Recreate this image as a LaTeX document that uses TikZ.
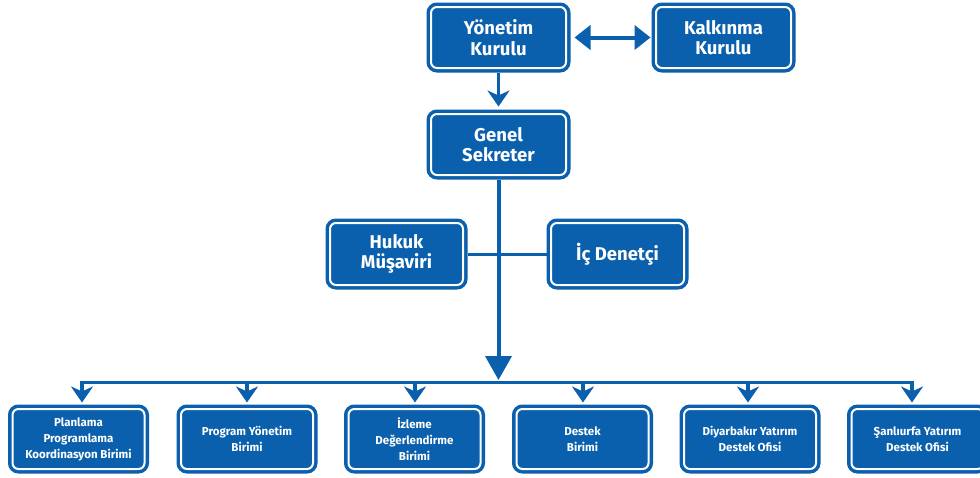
\documentclass[tikz,border=0pt]{standalone}
\usepackage{fontspec}
\setmainfont{Fira Sans}
\usetikzlibrary{arrows.meta}
\definecolor{kblue}{RGB}{10,96,172}
\tikzset{
  box/.style={fill=kblue, draw=white, line width=2pt, rounded corners=6pt,
    preaction={draw=kblue, line width=9pt}, outer sep=4.5pt,
    text=white, align=center, inner sep=0pt},
  bigbox/.style={box, minimum width=135pt, minimum height=61pt,
    font=\fontsize{18.5}{20.5}\selectfont\bfseries},
  midbox/.style={box, minimum width=133pt, minimum height=62pt,
    font=\fontsize{18.5}{20.5}\selectfont\bfseries},
  smallbox/.style={box, minimum width=132pt, minimum height=60pt,
    font=\fontsize{11.5}{16}\selectfont\bfseries},
  conn/.style={draw=kblue, line width=3.5pt},
  chev/.style={conn, -{Stealth[length=16pt,width=22pt,inset=5pt]}},
  bigarrow/.style={draw=kblue, line width=4pt, -{Triangle[length=24pt,width=26pt]}},
  dblarrow/.style={draw=kblue, line width=4pt, {Triangle[length=16pt,width=24pt]}-{Triangle[length=16pt,width=24pt]}}
}
\begin{document}
\begin{tikzpicture}[x=1pt,y=-1pt]
\useasboundingbox (0,0) rectangle (980,477);
\clip (0,0) rectangle (980,477);
\node[bigbox] (yk) at (498.5,37.5) {Yönetim\\Kurulu};
\node[bigbox] (kk) at (723.5,37.5) {Kalkınma\\Kurulu};
\node[bigbox] (gs) at (498.5,144.5) {Genel\\Sekreter};
\node[midbox] (hm) at (396.5,254) {Hukuk\\Müşaviri};
\node[midbox] (id) at (617.5,254) {İç Denetçi};
\node[smallbox] (b1) at (78.5,439) {Planlama\\Programlama\\Koordinasyon Birimi};
\node[smallbox] (b2) at (247,439) {Program Yönetim\\Birimi};
\node[smallbox] (b3) at (414.5,439) {İzleme\\Değerlendirme\\Birimi};
\node[smallbox] (b4) at (582.5,439) {Destek\\Birimi};
\node[smallbox] (b5) at (750,439) {Diyarbakır Yatırım\\Destek Ofisi};
\node[smallbox] (b6) at (917.5,439) {Şanlıurfa Yatırım\\Destek Ofisi};

\draw[dblarrow, shorten <=4pt, shorten >=1pt] (yk.east) -- (kk.west);
\draw[chev, shorten >=3pt] (yk.south) -- (gs.north);
\draw[conn, line width=3pt] (hm.east) -- (id.west);
\coordinate (bus) at (498.5,380);
\draw[bigarrow] (gs.south) -- (bus);
\coordinate (d1) at (82,382);
\coordinate (d2) at (247,382);
\coordinate (d3) at (415,382);
\coordinate (d4) at (583,382);
\coordinate (d5) at (748,382);
\coordinate (d6) at (912,382);
\draw[conn, line width=3pt] (d1) -- (d6);
\foreach \d/\b in {d1/b1,d2/b2,d3/b3,d4/b4,d5/b5,d6/b6}{
  \draw[chev, shorten >=2pt] ([yshift=1.5pt]\d) -- (\d |- \b.north);
}
\end{tikzpicture}
\end{document}
